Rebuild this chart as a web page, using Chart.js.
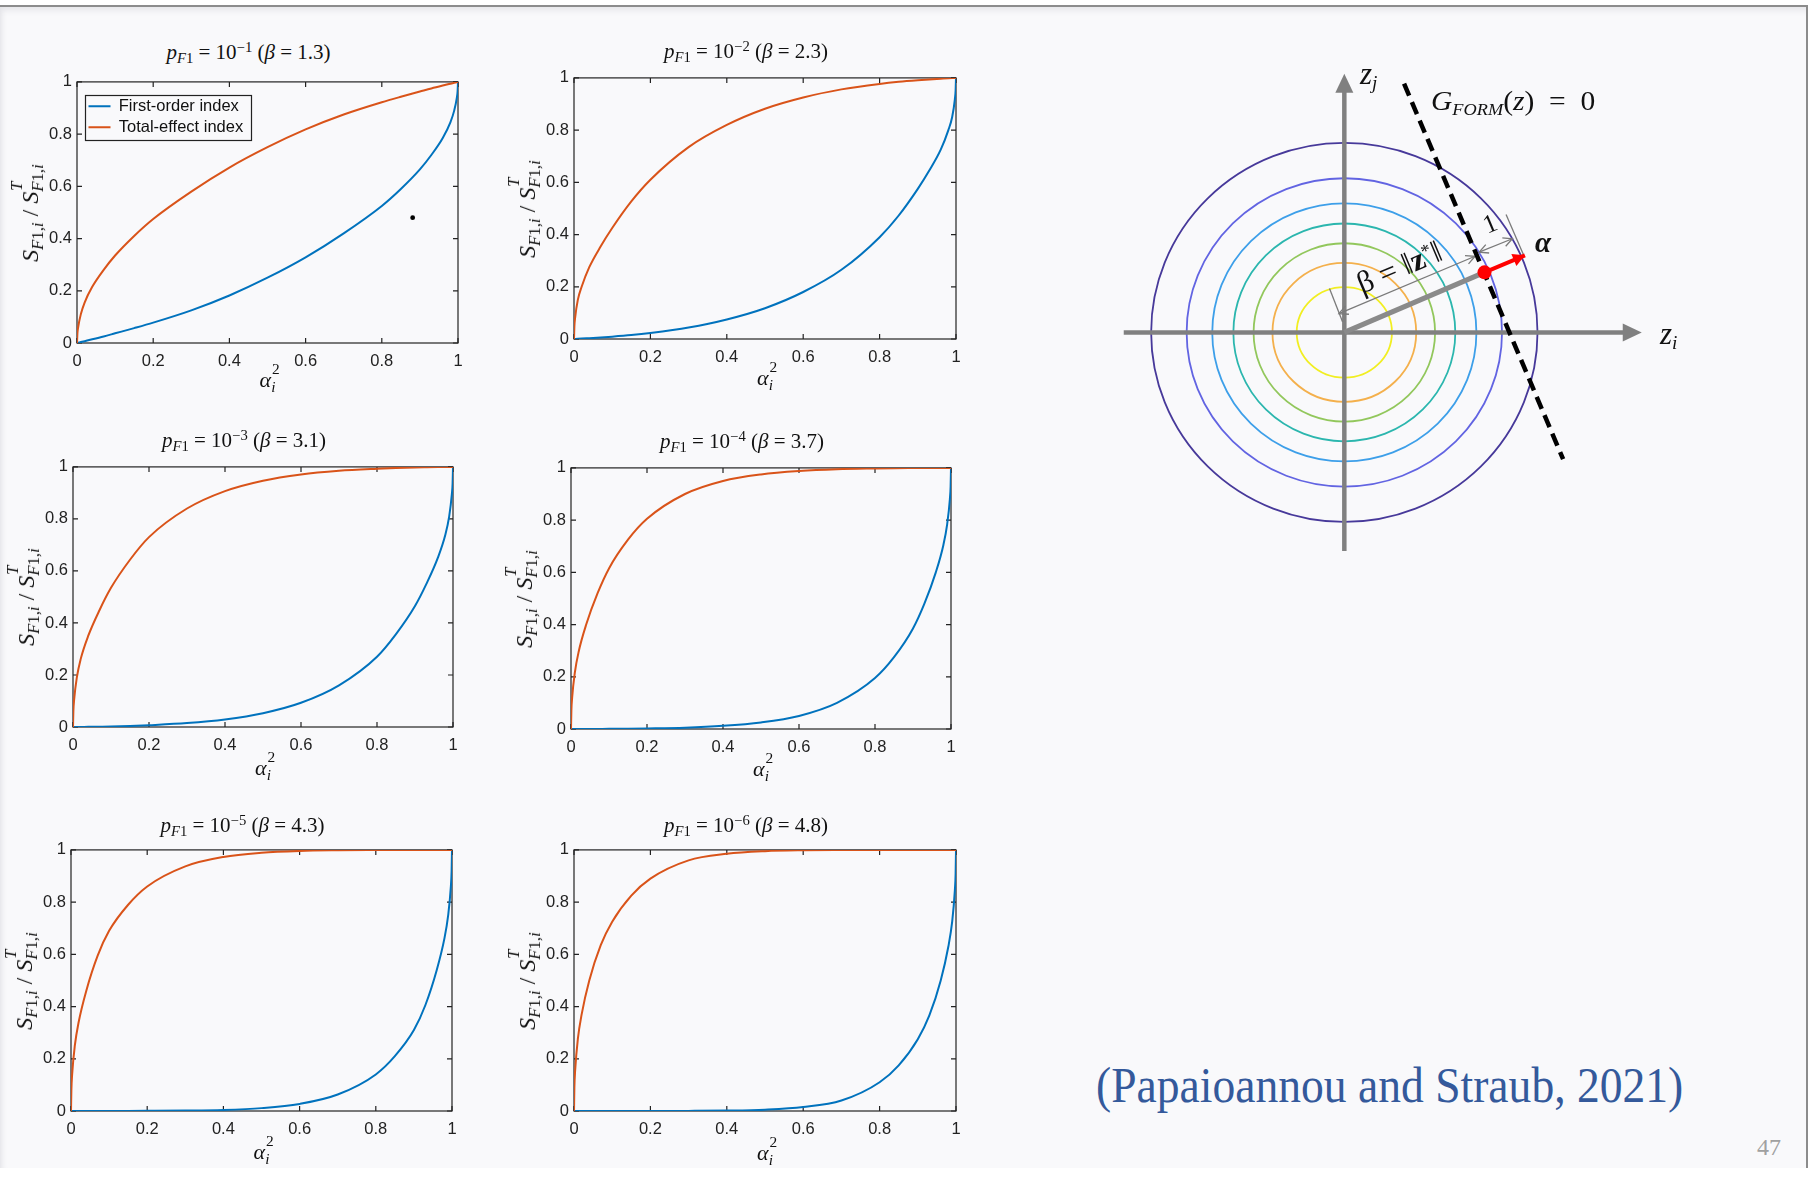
<!DOCTYPE html>
<html>
<head>
<meta charset="utf-8">
<script src="https://cdn.jsdelivr.net/npm/chart.js@4.4.1/dist/chart.umd.min.js"></script>
<style>
  html, body { margin: 0; padding: 0; }
  body { width: 1814px; height: 1178px; position: relative; overflow: hidden; background: #ffffff; font-family: "Liberation Serif", serif; }
  #slide { position: absolute; left: 0; top: 5px; width: 1806px; height: 1161px; background: #f9f9fb;
           border-top: 2px solid #8c8c8c; border-right: 2px solid #8c8c8c;
           box-shadow: inset 0 9px 6px -6px #e4e4e8, inset 7px 0 6px -6px #dedee2; }
  canvas { position: absolute; }
  .txt { position: absolute; white-space: nowrap; line-height: 1; color: #111; }
  .ttl { font-size: 21px; transform: translate(-50%, -50%); }
  .xl  { font-size: 22px; transform: translate(-50%, -50%); }
  .yl  { font-size: 24px; transform: translate(-50%, -50%) rotate(-90deg); }
  .sub, .sup { font-size: 70%; position: relative; }
  .sup { top: -0.5em; }
  .sub { top: 0.28em; }
  .st { display: inline-block; position: relative; }
  .st .u { position: absolute; left: 0.05em; top: -0.55em; font-size: 70%; }
  .st .d { font-size: 70%; position: relative; top: 0.3em; }
  .math { font-family: "Liberation Serif", serif; color: #111; }
  #cite { position: absolute; left: 1096px; top: 1060px; font-size: 50px; color: #34599b; transform-origin: 0 0; white-space: nowrap; line-height: 1; }
  #page { position: absolute; left: 1757px; top: 1135px; font-size: 24px; color: #a0a0a0; line-height: 1; }
</style>
</head>
<body>
<div id="slide"></div>
<div id="cite">(Papaioannou and Straub, 2021)</div>
<div id="page">47</div>

<script>
// ---------- sensitivity curves (S / S^T against alpha_i^2) ----------
const xGrid = [0, 0.001, 0.003, 0.01, 0.02, 0.04, 0.07, 0.1, 0.15, 0.2, 0.3, 0.4, 0.5,
               0.6, 0.7, 0.8, 0.85, 0.9, 0.93, 0.96, 0.98, 0.99, 0.997, 0.999, 1];

const pfExponents = [-1, -2, -3, -4, -5, -6];
const betaValues  = ['1.3', '2.3', '3.1', '3.7', '4.3', '4.8'];
const axisTicks   = [0, 0.2, 0.4, 0.6, 0.8, 1];

const firstOrder1 = [0, 0.0003, 0.001, 0.0035, 0.007, 0.014, 0.025, 0.037, 0.057, 0.078, 0.125, 0.182, 0.25,
                     0.328, 0.42, 0.525, 0.59, 0.665, 0.72, 0.785, 0.845, 0.89, 0.94, 0.965, 1];
const totalEffect1 = [0, 0.035, 0.06, 0.11, 0.155, 0.215, 0.28, 0.335, 0.41, 0.475, 0.58, 0.672, 0.75,
                      0.818, 0.875, 0.922, 0.943, 0.963, 0.975, 0.986, 0.993, 0.9965, 0.999, 0.9997, 1];

const firstOrder2 = [0, 0.00007, 0.0002, 0.0007, 0.0015, 0.0033, 0.006, 0.009, 0.015, 0.023, 0.044, 0.075, 0.118,
                     0.18, 0.265, 0.39, 0.473, 0.575, 0.645, 0.725, 0.8, 0.85, 0.918, 0.953, 1];
const totalEffect2 = [0, 0.047, 0.082, 0.15, 0.2, 0.275, 0.355, 0.425, 0.527, 0.61, 0.735, 0.82, 0.882,
                      0.925, 0.956, 0.977, 0.985, 0.991, 0.994, 0.9967, 0.9985, 0.9993, 0.9998, 0.99993, 1];

const firstOrder3 = [0, 0, 0, 0, 0.0002, 0.0005, 0.0012, 0.002, 0.004, 0.007, 0.015, 0.029, 0.053,
                     0.093, 0.16, 0.27, 0.357, 0.465, 0.55, 0.65, 0.74, 0.81, 0.895, 0.938, 1];
const totalEffect3 = [0, 0.062, 0.105, 0.19, 0.26, 0.35, 0.45, 0.535, 0.643, 0.73, 0.84, 0.907, 0.947,
                      0.971, 0.985, 0.993, 0.996, 0.998, 0.9988, 0.9995, 0.9998, 1, 1, 1, 1];

const firstOrder4 = [0, 0, 0, 0, 0, 0.0001, 0.0003, 0.0005, 0.001, 0.002, 0.005, 0.012, 0.025,
                     0.05, 0.1, 0.195, 0.275, 0.385, 0.48, 0.6, 0.705, 0.785, 0.88, 0.93, 1];
const totalEffect4 = [0, 0.07, 0.12, 0.215, 0.295, 0.4, 0.52, 0.615, 0.725, 0.805, 0.9, 0.95, 0.975,
                      0.988, 0.995, 0.998, 0.999, 0.9995, 0.9997, 0.9999, 1, 1, 1, 1, 1];

const firstOrder5 = [0, 0, 0, 0, 0, 0, 0, 0, 0.0002, 0.0005, 0.0015, 0.004, 0.011,
                     0.027, 0.063, 0.14, 0.21, 0.31, 0.405, 0.54, 0.66, 0.75, 0.86, 0.92, 1];
const totalEffect5 = [0, 0.08, 0.14, 0.25, 0.34, 0.46, 0.595, 0.69, 0.79, 0.86, 0.937, 0.973, 0.989,
                      0.996, 0.9985, 0.9995, 0.9998, 1, 1, 1, 1, 1, 1, 1, 1];

const firstOrder6 = [0, 0, 0, 0, 0, 0, 0, 0, 0, 0.0001, 0.0004, 0.0015, 0.005,
                     0.015, 0.04, 0.11, 0.175, 0.275, 0.365, 0.5, 0.63, 0.725, 0.845, 0.91, 1];
const totalEffect6 = [0, 0.09, 0.155, 0.275, 0.37, 0.5, 0.635, 0.725, 0.825, 0.89, 0.96, 0.985, 0.995,
                      0.9985, 0.9996, 0.9999, 1, 1, 1, 1, 1, 1, 1, 1, 1];

const firstOrderSets  = [firstOrder1, firstOrder2, firstOrder3, firstOrder4, firstOrder5, firstOrder6];
const totalEffectSets = [totalEffect1, totalEffect2, totalEffect3, totalEffect4, totalEffect5, totalEffect6];

// small dark speck sitting inside the first panel
const speckPoint = [{ x: 0.881, y: 0.48 }];

// ---------- FORM sketch in the standard normal space ----------
const contourRx = [4.30, 3.51, 2.94, 2.47, 2.02, 1.60, 1.06];
const contourRy = [4.23, 3.44, 2.88, 2.43, 1.99, 1.55, 1.01];
const contourColors = ['#47399a', '#6264e2', '#3d9fe9', '#2bb6ae', '#92c75c', '#f4b04c', '#f1ee22'];
const axisZi = [{ x: -4.91, y: 0 }, { x: 6.62, y: 0 }];
const axisZj = [{ x: 0, y: -4.88 }, { x: 0, y: 5.77 }];
const limitStateLine = [{ x: 1.33, y: 5.55 }, { x: 4.87, y: -2.83 }];
const origin = [{ x: 0, y: 0 }];
const designPoint = [{ x: 3.12, y: 1.34 }];
const alphaTip = [{ x: 4.02, y: 1.72 }];
const betaDimension = [{ x: -0.12, y: 0.42 }, { x: 2.91, y: 1.70 }];
const betaExtension = [{ x: -0.33, y: 0.98 }, { x: -0.04, y: 0.24 }];
const unitDimension = [{ x: 3.00, y: 1.79 }, { x: 3.74, y: 2.09 }];
const unitExtension = [{ x: 3.60, y: 2.63 }, { x: 3.99, y: 1.73 }];

// ---------- panel placement (plot-area rectangles on the page) ----------
const panelBoxes = [
  { L: 77, T: 82, W: 381, H: 261, ty: -30, xy: 37 },
  { L: 574, T: 78, W: 382, H: 261, ty: -27, xy: 39 },
  { L: 73, T: 467, W: 380, H: 260, ty: -27, xy: 41 },
  { L: 571, T: 468, W: 380, H: 261, ty: -27, xy: 40 },
  { L: 71, T: 850, W: 381, H: 261, ty: -25, xy: 41 },
  { L: 574, T: 850, W: 382, H: 261, ty: -25, xy: 42 }
];
const PAD_L = 60, PAD_T = 10, PAD_R = 16, PAD_B = 34;

const blue = '#0072BD', orange = '#D95319', axisInk = '#222222';
const LEGEND_FONT = 16.5, LEGEND_GAP = 4.5;

// box and inward tick marks in the MATLAB manner
const framePlugin = {
  id: 'frame',
  beforeDatasetsDraw(chart) {
    const { ctx, chartArea: a, scales: { x, y } } = chart;
    ctx.save();
    ctx.strokeStyle = axisInk;
    ctx.lineWidth = 1.2;
    ctx.strokeRect(a.left, a.top, a.width, a.height);
    ctx.beginPath();
    x.ticks.forEach(t => {
      const px = x.getPixelForValue(t.value);
      ctx.moveTo(px, a.bottom); ctx.lineTo(px, a.bottom - 5);
      ctx.moveTo(px, a.top); ctx.lineTo(px, a.top + 5);
    });
    y.ticks.forEach(t => {
      const py = y.getPixelForValue(t.value);
      ctx.moveTo(a.left, py); ctx.lineTo(a.left + 5, py);
      ctx.moveTo(a.right, py); ctx.lineTo(a.right - 5, py);
    });
    ctx.stroke();
    ctx.restore();
  }
};

// places the in-axes legend and draws its frame
const legendFramePlugin = {
  id: 'legendFrame',
  afterLayout(chart) {
    const lg = chart.legend;
    if (!lg || !lg.options.display) return;
    const a = chart.chartArea;
    const h = lg.height, w = lg.width;
    lg.top = a.top + 11.5; lg.bottom = lg.top + h;
    lg.left = a.left + 7; lg.right = lg.left + w;
  },
  afterDraw(chart) {
    const lg = chart.legend;
    if (!lg || !lg.options.display || !lg.legendHitBoxes.length) return;
    const hb = lg.legendHitBoxes;
    const l = Math.min(...hb.map(b => b.left));
    const t = Math.min(...hb.map(b => b.top));
    const r = Math.max(...hb.map(b => b.left + b.width));
    const bt = Math.max(...hb.map(b => b.top + b.height));
    const ctx = chart.ctx;
    ctx.save();
    ctx.strokeStyle = axisInk;
    ctx.lineWidth = 1.2;
    ctx.strokeRect(Math.round(l - 4) + 0.5, Math.round(t - 3) + 0.5, Math.round(r - l + 11), Math.round(bt - t + 7));
    ctx.restore();
  }
};

function titleHTML(exp, beta) {
  return '<i>p</i><span class="sub"><i>F</i>1</span> = 10<span class="sup">\u2212' + Math.abs(exp) +
         '</span> (<i>\u03b2</i> = ' + beta + ')';
}
const yLabelHTML = '<i>S</i><span class="sub"><i>F</i>1,<i>i</i></span> / <i>S</i><span class="st"><span class="u"><i>T</i></span><span class="d"><i>F</i>1,<i>i</i></span></span>';
const xLabelHTML = '<i>\u03b1</i><span class="st"><span class="u">2</span><span class="d"><i>i</i></span></span>';

function addText(cls, html, left, top) {
  const d = document.createElement('div');
  d.className = 'txt ' + cls;
  d.innerHTML = html;
  d.style.left = left + 'px';
  d.style.top = top + 'px';
  document.body.appendChild(d);
  return d;
}

panelBoxes.forEach((p, i) => {
  const cv = document.createElement('canvas');
  const cw = p.W + PAD_L + PAD_R, ch = p.H + PAD_T + PAD_B;
  cv.width = cw; cv.height = ch;
  cv.style.width = cw + 'px'; cv.style.height = ch + 'px';
  cv.style.left = (p.L - PAD_L) + 'px';
  cv.style.top = (p.T - PAD_T) + 'px';
  document.body.appendChild(cv);

  const datasets = [
    { label: 'First-order index', data: xGrid.map((x, k) => ({ x, y: firstOrderSets[i][k] })),
      borderColor: blue, backgroundColor: blue, borderWidth: 2, pointRadius: 0,
      cubicInterpolationMode: 'monotone', fill: false, order: 2 },
    { label: 'Total-effect index', data: xGrid.map((x, k) => ({ x, y: totalEffectSets[i][k] })),
      borderColor: orange, backgroundColor: orange, borderWidth: 2, pointRadius: 0,
      cubicInterpolationMode: 'monotone', fill: false, order: 1 }
  ];
  if (i === 0) {
    datasets.push({ type: 'scatter', label: 'speck', data: speckPoint, pointRadius: 2.4,
                    backgroundColor: '#000', borderWidth: 0, showLine: false, order: 0 });
  }

  const tickFont = { family: 'Liberation Sans', size: 16.5 };
  const fmt = v => String(Math.round(v * 10) / 10);
  const chart = new Chart(cv, {
    type: 'line',
    data: { datasets },
    options: {
      responsive: false, maintainAspectRatio: false, animation: false, devicePixelRatio: 1,
      layout: { padding: { top: PAD_T, right: PAD_R, left: 0, bottom: 0 } },
      scales: {
        x: { type: 'linear', min: 0, max: 1,
             grid: { display: false, drawTicks: false }, border: { display: false },
             afterBuildTicks: s => { s.ticks = axisTicks.map(v => ({ value: v })); },
             ticks: { autoSkip: false, maxRotation: 0, padding: 9, font: tickFont, color: axisInk, callback: fmt },
             afterFit: s => { s.height = PAD_B; } },
        y: { type: 'linear', min: 0, max: 1,
             grid: { display: false, drawTicks: false }, border: { display: false },
             afterBuildTicks: s => { s.ticks = axisTicks.map(v => ({ value: v })); },
             ticks: { autoSkip: false, padding: 5, font: tickFont, color: axisInk, callback: fmt },
             afterFit: s => { s.width = PAD_L; } }
      },
      plugins: {
        tooltip: { enabled: false },
        legend: {
          display: i === 0, position: 'chartArea', align: 'start',
          labels: { usePointStyle: true, pointStyle: 'line', pointStyleWidth: 22, padding: LEGEND_GAP,
                    font: { family: 'Liberation Sans', size: LEGEND_FONT }, color: '#111',
                    filter: item => item.datasetIndex < 2,
                    sort: (a, b) => a.datasetIndex - b.datasetIndex }
        }
      }
    },
    plugins: [framePlugin, legendFramePlugin]
  });

  // keep the plot area exactly on its page rectangle
  let a = chart.chartArea;
  const fixW = Math.round(cw + (p.W - a.width)), fixH = Math.round(ch + (p.H - a.height));
  if (fixW !== cw || fixH !== ch) { chart.resize(fixW, fixH); }
  a = chart.chartArea;
  cv.style.left = (p.L - a.left) + 'px';
  cv.style.top = (p.T - a.top) + 'px';

  addText('ttl', titleHTML(pfExponents[i], betaValues[i]), p.L + p.W / 2 - 19, p.T + p.ty);
  addText('xl', xLabelHTML, p.L + p.W / 2, p.T + p.H + p.xy);
  addText('yl', yLabelHTML, p.L - 47, p.T + p.H / 2);
});

// ---------- FORM sketch ----------
const sk = { left: 1100, top: 40, w: 600, h: 540, unit: 46, ox: 1343, oy: 333 };
const skCanvas = document.createElement('canvas');
skCanvas.width = sk.w; skCanvas.height = sk.h;
skCanvas.style.width = sk.w + 'px'; skCanvas.style.height = sk.h + 'px';
skCanvas.style.left = sk.left + 'px'; skCanvas.style.top = sk.top + 'px';
document.body.appendChild(skCanvas);

const xMin = (sk.left - sk.ox) / sk.unit, xMax = (sk.left + sk.w - sk.ox) / sk.unit;
const yMax = (sk.oy - sk.top) / sk.unit, yMin = (sk.oy - sk.top - sk.h) / sk.unit;

function arrowHead(ctx, x0, y0, x1, y1, len, half, filled) {
  const ang = Math.atan2(y1 - y0, x1 - x0);
  const bx = x1 - len * Math.cos(ang), by = y1 - len * Math.sin(ang);
  const nx = -Math.sin(ang) * half, ny = Math.cos(ang) * half;
  ctx.beginPath();
  ctx.moveTo(bx + nx, by + ny); ctx.lineTo(x1, y1); ctx.lineTo(bx - nx, by - ny);
  if (filled) { ctx.closePath(); ctx.fill(); } else { ctx.stroke(); }
}

const sketchPlugin = {
  id: 'sketch',
  beforeDatasetsDraw(chart) {
    const { ctx, scales: { x, y } } = chart;
    const P = pt => [x.getPixelForValue(pt.x), y.getPixelForValue(pt.y)];
    const [cx, cy] = P(origin[0]);
    ctx.save();
    // density contours
    contourRx.forEach((rx, k) => {
      const ex = x.getPixelForValue(rx) - cx;
      const ey = cy - y.getPixelForValue(contourRy[k]);
      ctx.beginPath();
      ctx.ellipse(cx, cy, ex, ey, 0, 0, Math.PI * 2);
      ctx.strokeStyle = contourColors[k];
      ctx.lineWidth = 1.8;
      ctx.stroke();
    });
    // coordinate axes with arrowheads
    ctx.strokeStyle = '#808080'; ctx.fillStyle = '#808080'; ctx.lineWidth = 4.5;
    [axisZi, axisZj].forEach(ax => {
      const [x0, y0] = P(ax[0]), [x1, y1] = P(ax[1]);
      const ang = Math.atan2(y1 - y0, x1 - x0);
      ctx.beginPath(); ctx.moveTo(x0, y0); ctx.lineTo(x1 - 12 * Math.cos(ang), y1 - 12 * Math.sin(ang)); ctx.stroke();
      arrowHead(ctx, x0, y0, x1, y1, 19, 9, true);
    });
    // dimension lines
    ctx.strokeStyle = '#7a7a7a'; ctx.lineWidth = 1.3;
    [betaExtension, unitExtension].forEach(seg => {
      const [x0, y0] = P(seg[0]), [x1, y1] = P(seg[1]);
      ctx.beginPath(); ctx.moveTo(x0, y0); ctx.lineTo(x1, y1); ctx.stroke();
    });
    [betaDimension, unitDimension].forEach(seg => {
      const [x0, y0] = P(seg[0]), [x1, y1] = P(seg[1]);
      ctx.beginPath(); ctx.moveTo(x0, y0); ctx.lineTo(x1, y1); ctx.stroke();
      arrowHead(ctx, x0, y0, x1, y1, 9, 4.5, false);
      arrowHead(ctx, x1, y1, x0, y0, 9, 4.5, false);
    });
    ctx.restore();
  },
  afterDatasetsDraw(chart) {
    const { ctx, scales: { x, y } } = chart;
    const P = pt => [x.getPixelForValue(pt.x), y.getPixelForValue(pt.y)];
    const [x0, y0] = P(designPoint[0]), [x1, y1] = P(alphaTip[0]);
    ctx.save();
    ctx.fillStyle = '#ff0000';
    arrowHead(ctx, x0, y0, x1, y1, 12, 6.5, true);
    ctx.restore();
  }
};

new Chart(skCanvas, {
  type: 'scatter',
  data: {
    datasets: [
      { data: limitStateLine, showLine: true, borderColor: '#000', borderWidth: 4.5, borderDash: [13, 7],
        pointRadius: 0, order: 4 },
      { data: [origin[0], designPoint[0]], showLine: true, borderColor: '#8a8a8a', borderWidth: 5,
        pointRadius: 0, order: 3 },
      { data: [designPoint[0], alphaTip[0]], showLine: true, borderColor: '#ff0000', borderWidth: 4,
        pointRadius: 0, order: 2 },
      { data: designPoint, showLine: false, pointRadius: 7, backgroundColor: '#ff0000', borderWidth: 0, order: 1 }
    ]
  },
  options: {
    responsive: false, maintainAspectRatio: false, animation: false, devicePixelRatio: 1,
    layout: { padding: 0 },
    scales: {
      x: { type: 'linear', min: xMin, max: xMax, display: false },
      y: { type: 'linear', min: yMin, max: yMax, display: false }
    },
    plugins: { legend: { display: false }, tooltip: { enabled: false } }
  },
  plugins: [sketchPlugin]
});

// sketch annotations
addText('math', '<i>z</i><span class="sub" style="font-size:62%"><i>j</i></span>', 1360, 58).style.fontSize = '31px';
addText('math', '<i>z</i><span class="sub" style="font-size:62%"><i>i</i></span>', 1660, 318).style.fontSize = '31px';
const gTxt = addText('math', '<i>G</i><span class="sub" style="font-size:62%"><i>FORM</i></span>(<i>z</i>)\u2002=\u20020', 1431, 88);
gTxt.style.fontSize = '27px';
gTxt.style.transformOrigin = '0 0';
gTxt.style.transform = 'scaleX(' + (164 / gTxt.offsetWidth) + ')';
addText('math', '<b><i>\u03b1</i></b>', 1535, 228).style.fontSize = '29px';
const betaTxt = addText('math', '\u03b2 = \u2016<b>z</b><span class="sup" style="font-size:60%">*</span>\u2016', 1399, 267);
betaTxt.style.fontSize = '31px';
betaTxt.style.transform = 'translate(-50%,-50%) rotate(-23deg)';
const oneTxt = addText('math', '1', 1490, 224);
oneTxt.style.fontSize = '26px';
oneTxt.style.transform = 'translate(-50%,-50%) rotate(-23deg)';

// fit citation to its width
const cite = document.getElementById('cite');
cite.style.transform = 'scaleX(' + (587 / cite.offsetWidth) + ')';
</script>
</body>
</html>
